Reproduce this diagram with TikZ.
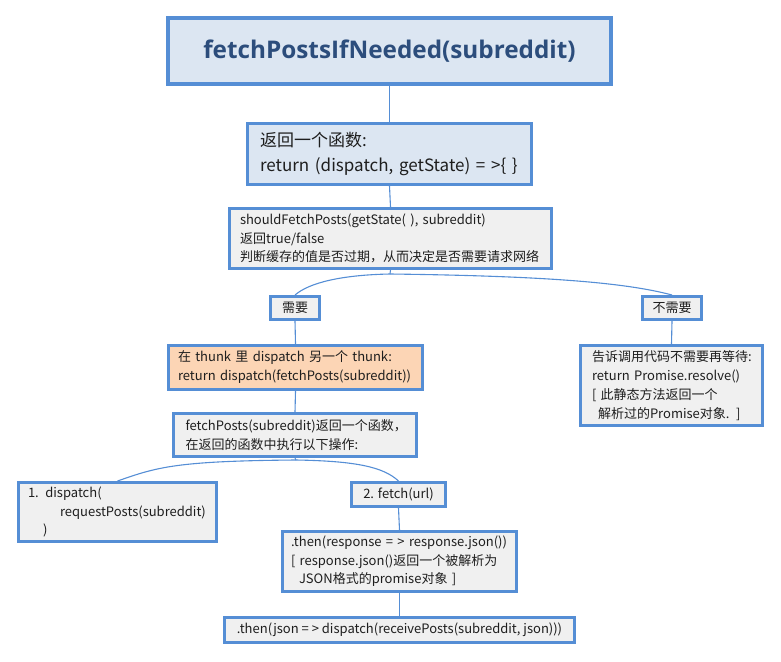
\documentclass[tikz,border=0pt]{standalone}
\usepackage{fontspec}
\setmainfont{Noto Sans CJK SC}
\newfontfamily\titlefont{Open Sans}
\definecolor{bord}{HTML}{558ED5}
\definecolor{fblue}{HTML}{DCE6F2}
\definecolor{fgray}{HTML}{F0F0F0}
\definecolor{fpeach}{HTML}{FCD5B5}
\definecolor{ttl}{HTML}{2C4D7C}
\definecolor{txt}{HTML}{1E1E1E}
\tikzset{
  bx/.style={draw=bord, line width=3pt, fill=fgray, text=txt,
    font=\fontsize{13}{18.5}\selectfont, align=left, inner ysep=0pt},
  conn/.style={draw=bord, line width=1.1pt},
}
\begin{document}
\begin{tikzpicture}[x=1pt,y=-1pt]
\useasboundingbox (0,0) rectangle (781,661);
\node[bx, line width=4pt, fill=fblue, minimum width=443pt, minimum height=66pt,
  align=center, text=ttl, font=\titlefont\bfseries\fontsize{24.3}{29}\selectfont]
  (title) at (389.5,51) {fetchPostsIfNeeded(subreddit)};
\node[bx, fill=fblue, minimum width=284pt, minimum height=61pt, inner xsep=12.5pt,
  text width=259pt, font=\fontsize{17}{25}\selectfont]
  (ret) at (389.5,154) {返回一个函数:\\return (dispatch, getState) = >\{ \}};
\node[bx, minimum width=322pt, minimum height=60pt, inner xsep=10.5pt, text width=301pt]
  (should) at (390.5,238.5) {shouldFetchPosts(getState( ), subreddit)\\返回true/false\\判断缓存的值是否过期，从而决定是否需要请求网络};
\node[bx, minimum width=49pt, minimum height=23pt, align=center, inner xsep=0pt]
  (need) at (295,308) {需要};
\node[bx, minimum width=59pt, minimum height=23pt, align=center, inner xsep=0pt]
  (noneed) at (672,308) {不需要};
\node[bx, fill=fpeach, minimum width=254pt, minimum height=44pt, inner xsep=9.5pt,
  text width=235pt, font=\fontsize{13}{19}\selectfont]
  (thunk) at (295.5,367.5) {在 thunk 里 dispatch 另一个 thunk:\\return dispatch(fetchPosts(subreddit))};
\node[bx, minimum width=243pt, minimum height=43pt, inner xsep=12pt, text width=219pt,
  font=\fontsize{13}{19}\selectfont]
  (fp) at (295,435) {fetchPosts(subreddit)返回一个函数，\\在返回的函数中执行以下操作:};
\node[bx, minimum width=182pt, minimum height=80pt, inner xsep=11.5pt, text width=159pt,
  font=\fontsize{13}{19}\selectfont]
  (promise) at (671.5,385.5) {告诉调用代码不需要再等待:\\return Promise.resolve()\\{[} 此静态方法返回一个\\\hspace*{6pt}解析过的Promise对象. ]};
\node[bx, minimum width=198pt, minimum height=59pt, inner xsep=9.5pt, text width=179pt]
  (d1) at (117.5,512) {1. dispatch(\\\hspace*{32pt}requestPosts(subreddit)\\\hspace*{15pt})};
\node[bx, minimum width=94pt, minimum height=24pt, align=center, inner xsep=0pt]
  (f2) at (398.5,494.5) {2. fetch(url)};
\node[bx, minimum width=234pt, minimum height=60pt, inner xsep=8.5pt, text width=217pt]
  (then1) at (399.5,561.5) {.then(response = > response.json())\\{[} response.json()返回一个被解析为\\\hspace*{8pt}JSON格式的promise对象 ]};
\node[bx, minimum width=350pt, minimum height=25pt, inner xsep=0pt, align=center]
  (then2) at (399.5,630) {.then(json = > dispatch(receivePosts(subreddit, json)))};
\coordinate (j1) at (390,274);
\coordinate (j2) at (296,460);
\draw[conn] (title.south) -- (ret.north);
\draw[conn] (ret.south) -- (should.north);
\draw[conn] (should.south) -- (j1);
\draw[conn] (j1) .. controls +(-50,1) and +(14,-12) .. (need.north);
\draw[conn] (j1) .. controls +(160,2) and +(-45,-12) .. (noneed.north);
\draw[conn] (need.south) -- (thunk.north);
\draw[conn] (thunk.south) -- (fp.north);
\draw[conn] (noneed.south) -- (promise.north);
\draw[conn] (fp.south) -- (j2);
\draw[conn] (j2) .. controls +(-120,1) and +(40,-14) .. (d1.north);
\draw[conn] (j2) .. controls +(60,1) and +(-15,-14) .. (f2.north);
\draw[conn] (f2.south) -- (then1.north);
\draw[conn] (then1.south) -- (then2.north);
\end{tikzpicture}
\end{document}
